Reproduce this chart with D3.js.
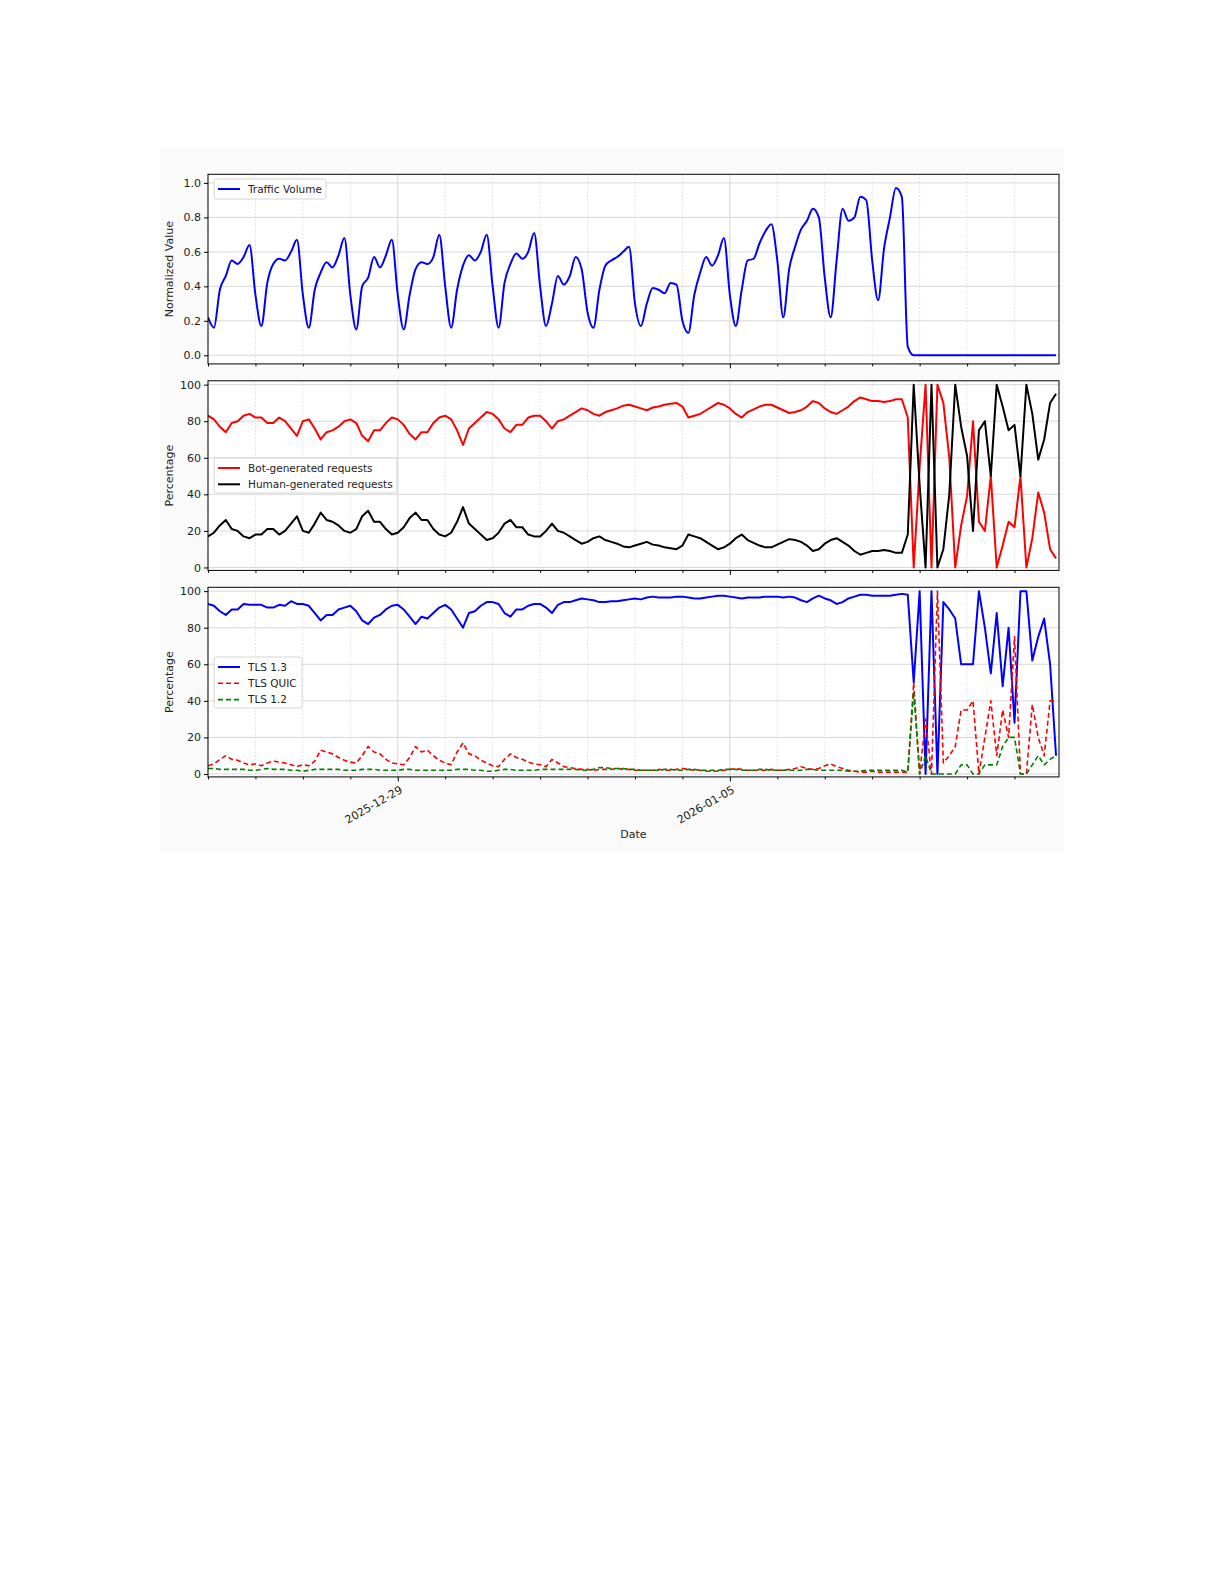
<!DOCTYPE html>
<html><head><meta charset="utf-8">
<script src="https://cdn.jsdelivr.net/npm/d3@7"></script>
<style>body{margin:0;background:#fff}svg{display:block}text{font-family:"DejaVu Sans",sans-serif}</style>
</head><body><svg id="c" width="1225" height="1585"></svg>
<script>
const startTime = "2025-12-25T00:00:00Z";
const endTime = "2026-01-11T22:30:00Z";
const stepHours = 3;
const majorTicks = ["2025-12-29", "2026-01-05"];
const trafficVolume = [
0.22,0.16,0.38,0.46,0.55,0.53,0.57,0.64,
0.35,0.17,0.42,0.53,0.56,0.55,0.60,0.67,
0.35,0.16,0.38,0.48,0.54,0.51,0.58,0.68,
0.35,0.15,0.40,0.45,0.57,0.51,0.58,0.67,
0.35,0.15,0.35,0.50,0.54,0.53,0.57,0.70,
0.40,0.16,0.38,0.52,0.58,0.55,0.60,0.70,
0.40,0.16,0.42,0.53,0.59,0.56,0.60,0.71,
0.40,0.17,0.30,0.46,0.41,0.46,0.57,0.50,
0.25,0.16,0.38,0.52,0.55,0.57,0.60,0.63,
0.30,0.17,0.30,0.39,0.38,0.36,0.42,0.41,
0.20,0.13,0.35,0.48,0.57,0.52,0.58,0.68,
0.35,0.17,0.38,0.55,0.56,0.65,0.72,0.76,
0.55,0.22,0.50,0.63,0.73,0.78,0.85,0.80,
0.45,0.22,0.55,0.85,0.78,0.80,0.92,0.90,
0.55,0.32,0.62,0.80,0.97,0.92,0.05,0,
0,0,0,0,0,0,0,0,0,0,0,0,0,0,0,0,0,0,0,0,0,0,0,0];
const botPct = [83,81,77,74,79,80,83,84,82,82,79,79,82,80,76,72,80,81,76,70,74,75,77,80,81,79,72,69,75,75,79,82,81,78,73,70,74,74,79,82,83,81,75,67,76,79,82,85,84,81,76,74,78,78,82,83,83,80,76,80,81,83,85,87,86,84,83,85,86,
87,88.5,89,88,87,86,87.5,88,89,89.5,90,88,82,83,84,86,88,90,89,87,84,82,85,86.5,88,89,89,87.5,86,84.5,85,86,88,91,90,87,85,84,86,88,91,93,92,91,91,90.5,91,92,92,
82,0,55,100,0,100,90,60,0,23,39,80,25,20,50,0,12,25,22,50,0,16,41,30,10,5];
const humanPct = [17,19,23,26,21,20,17,16,18,18,21,21,18,20,24,28,20,19,24,30,26,25,23,20,19,21,28,31,25,25,21,18,19,22,27,30,26,26,21,18,17,19,25,33,24,21,18,15,16,19,24,26,22,22,18,17,17,20,24,20,19,17,15,13,14,16,17,15,14,
13,11.5,11,12,13,14,12.5,12,11,10.5,10,12,18,17,16,14,12,10,11,13,16,18,15,13.5,12,11,11,12.5,14,15.5,15,14,12,9,10,13,15,16,14,12,9,7,8,9,9,9.5,9,8,8,
18,100,45,0,100,0,10,40,100,77,61,20,75,80,50,100,88,75,78,50,100,84,59,70,90,95];
const tls13 = [93,92,89,87,90,90,93,92.5,92.5,92.5,91,91,92.5,92,94.5,93,93,92,88,84,87,87,90,91,92,89,84,82,85.5,87,90,92,92.5,90,86,82,86,85,88,91,92.5,90,85,80,88,89,92,94,94,93,88,86,90,90,92,93,93,91,88,92.5,94,94,95,96,95.5,95,94,94,94.5,
94.5,95,95.5,96,95.5,96.5,97,96.5,96.5,96.5,97,97,96.5,96,96,96.5,97,97.5,97.5,97,96.5,96,96.5,96.5,96.5,97,97,97,96.5,97,96.5,95,94,96,97.5,96,95,93,94,96,97,98,98,97.5,97.5,97.5,97.5,98,98.5,
98,50,100,0,100,0,94,90,85,60,60,60,100,80,55,88,48,80,28,100,100,62,75,85,60,10];
const tlsQuic = [4.5,5.5,8,10,8,7.5,6,5,5.5,4.5,6,7,6.5,6,5,4,5,4.5,7,13,12,11,9,7.5,6.5,6,10,15,12,11,8,6,5.5,5,9,15,12,13,10,7.5,6,5,12,17,11,10,7.5,6,4.5,4,8,11,9,8,6.5,5.5,5,4,8,6,4,3.5,3,2.5,2.5,2,2.5,2.5,2.5,
3,2.5,2.5,2,2,2,2,2.5,2,2,2.5,3,2.5,2,2,1.5,1.5,1.5,2,2.5,3,2.5,2,2,2,2,2.5,2,2,2.5,3,4,3,2.5,3,4.5,5.5,4,3,2,1.5,1,1,1.5,1,1,1,1,1,
1,50,0,30,0,100,6,10,15,35,35,40,0,20,40,10,35,20,75,0,0,38,20,10,40,40];
const tls12 = [3,3,2.5,2.5,2.5,2.5,2.5,2,2,2.5,3,2.5,2.5,2.5,2,2,1.5,2,2.5,2.5,2.5,2.5,2.5,2,2,2,2.5,2.5,2.5,2,2,2,2,2.5,2.5,2,2,2,2,2,2,2,2.5,2.5,2.5,2,2,1.5,1.5,2,2.5,2.5,2,2,2,2,2.5,2.5,2.5,2.5,2.5,2.5,2.5,2,2,2.5,3.5,3.5,3,
3,3,2.5,2.5,2,2,2,2,2.5,2.5,2,2,2.5,2.5,2,2,2,2,2.5,2.5,2.5,2,2,2,2.5,2.5,2,2,2,2,2,2,2.5,2.5,2,2,2,2,2,1.5,1.5,1.5,2,2,2,2,2,2,2,
1,45,0,10,0,0,0,0,0,5,5,0,0,5,5,5,15,20,20,0,0,5,10,5,8,10];

const t0 = new Date(startTime);
const times = trafficVolume.map((_, i) => new Date(t0.getTime() + i * stepHours * 3600e3));
const svg = d3.select("#c");
svg.append("rect").attr("x",160).attr("y",148).attr("width",904).attr("height",704).attr("fill","#fafafa");

const L = 208, R = 1059;
const x = d3.scaleUtc().domain([t0, new Date(endTime)]).range([L, R]);
const panels = [
  {top:174.3, bot:363.9, dom:[-0.05,1.05], ticks:[0,0.2,0.4,0.6,0.8,1.0], fmt:d3.format(".1f"), ylab:"Normalized Value", curve:d3.curveMonotoneX,
   series:[{v:trafficVolume,c:"#0000ff",name:"Traffic Volume"}], leg:{x:214,y:179,w:112,h:20}},
  {top:380.8, bot:570.4, dom:[-1.6,102.1], ticks:[0,20,40,60,80,100], fmt:d3.format("d"), ylab:"Percentage", curve:d3.curveLinear,
   series:[{v:botPct,c:"#ff0000",name:"Bot-generated requests"},{v:humanPct,c:"#000000",name:"Human-generated requests"}], leg:{x:214,y:458,w:183,h:35}},
  {top:587.3, bot:776.9, dom:[-1.6,102.1], ticks:[0,20,40,60,80,100], fmt:d3.format("d"), ylab:"Percentage", curve:d3.curveLinear,
   series:[{v:tls13,c:"#0000ff",name:"TLS 1.3"},{v:tlsQuic,c:"#ff0000",name:"TLS QUIC",dash:"5,3"},{v:tls12,c:"#008000",name:"TLS 1.2",dash:"5,3"}], leg:{x:214,y:657,w:88,h:51}}
];
const days = d3.utcDay.range(d3.utcDay.ceil(t0), new Date(endTime));
const majors = majorTicks.map(s => new Date(s+"T00:00:00Z"));
const isMajor = d => majors.some(m => +m === +d);

panels.forEach((p, pi) => {
  const y = d3.scaleLinear().domain(p.dom).range([p.bot, p.top]);
  const g = svg.append("g");
  g.append("rect").attr("x",L).attr("y",p.top).attr("width",R-L).attr("height",p.bot-p.top).attr("fill","#fff");
  g.selectAll(".vm").data(days.filter(d=>!isMajor(d))).join("line").attr("x1",d=>x(d)).attr("x2",d=>x(d))
    .attr("y1",p.top).attr("y2",p.bot).attr("stroke","#d4d4d4").attr("stroke-width",0.8).attr("stroke-dasharray","1.5,2");
  g.selectAll(".vM").data(majors).join("line").attr("x1",d=>x(d)).attr("x2",d=>x(d))
    .attr("y1",p.top).attr("y2",p.bot).attr("stroke","#cfcfcf").attr("stroke-width",0.9);
  g.selectAll(".h").data(p.ticks).join("line").attr("x1",L).attr("x2",R).attr("y1",d=>y(d)).attr("y2",d=>y(d))
    .attr("stroke","#d4d4d4").attr("stroke-width",0.9);
  const clip = "clip"+pi;
  svg.append("clipPath").attr("id",clip).append("rect").attr("x",L).attr("y",p.top).attr("width",R-L).attr("height",p.bot-p.top);
  p.series.forEach(s => {
    const line = d3.line().x((d,i)=>x(times[i])).y(d=>y(d)).curve(p.curve);
    g.append("path").attr("d",line(s.v)).attr("fill","none").attr("stroke",s.c).attr("stroke-width",s.dash?1.6:2)
      .attr("stroke-dasharray",s.dash||null).attr("stroke-linejoin","round").attr("clip-path",`url(#${clip})`);
  });
  const ya = d3.axisLeft(y).tickValues(p.ticks).tickFormat(p.fmt).tickSize(4).tickPadding(3);
  const ag = g.append("g").attr("transform",`translate(${L},0)`).call(ya);
  ag.select(".domain").remove();
  ag.selectAll("text").attr("font-size",11).attr("fill","#222").attr("font-family","DejaVu Sans");
  const xaM = d3.axisBottom(x).tickValues(majors).tickSize(4.5).tickFormat(pi===2?d3.utcFormat("%Y-%m-%d"):"");
  const xg = g.append("g").attr("transform",`translate(0,${p.bot})`).call(xaM);
  xg.select(".domain").remove();
  const xam = d3.axisBottom(x).tickValues(days.filter(d=>!isMajor(d))).tickSize(2.5).tickFormat("");
  const xg2 = g.append("g").attr("transform",`translate(0,${p.bot})`).call(xam);
  xg2.select(".domain").remove();
  if (pi===2) {
    xg.selectAll("text").attr("font-size",11).attr("fill","#222").attr("text-anchor","end")
      .attr("transform","translate(-2,3) rotate(-30)").attr("dy","0.9em").attr("y",4);
  }
  g.append("rect").attr("x",L).attr("y",p.top).attr("width",R-L).attr("height",p.bot-p.top).attr("fill","none").attr("stroke","#000").attr("stroke-width",1);
  g.append("text").attr("transform",`translate(${L-35},${(p.top+p.bot)/2}) rotate(-90)`).attr("text-anchor","middle")
    .attr("font-size",11).attr("fill","#222").text(p.ylab);
  const lg = g.append("g");
  lg.append("rect").attr("x",p.leg.x).attr("y",p.leg.y).attr("width",p.leg.w).attr("height",p.leg.h).attr("rx",2)
    .attr("fill","#fff").attr("fill-opacity",0.85).attr("stroke","#d6d6d6");
  p.series.forEach((s,k) => {
    const yy = p.leg.y + 10 + k*16.3;
    lg.append("line").attr("x1",p.leg.x+4).attr("x2",p.leg.x+26).attr("y1",yy).attr("y2",yy).attr("stroke",s.c)
      .attr("stroke-width",s.dash?1.6:2).attr("stroke-dasharray",s.dash||null);
    lg.append("text").attr("x",p.leg.x+34).attr("y",yy).attr("dy","0.35em").attr("font-size",10.5).attr("fill","#222").text(s.name);
  });
});
svg.append("text").attr("x",(L+R)/2).attr("y",838).attr("text-anchor","middle").attr("font-size",11).attr("fill","#222").text("Date");
</script></body></html>
